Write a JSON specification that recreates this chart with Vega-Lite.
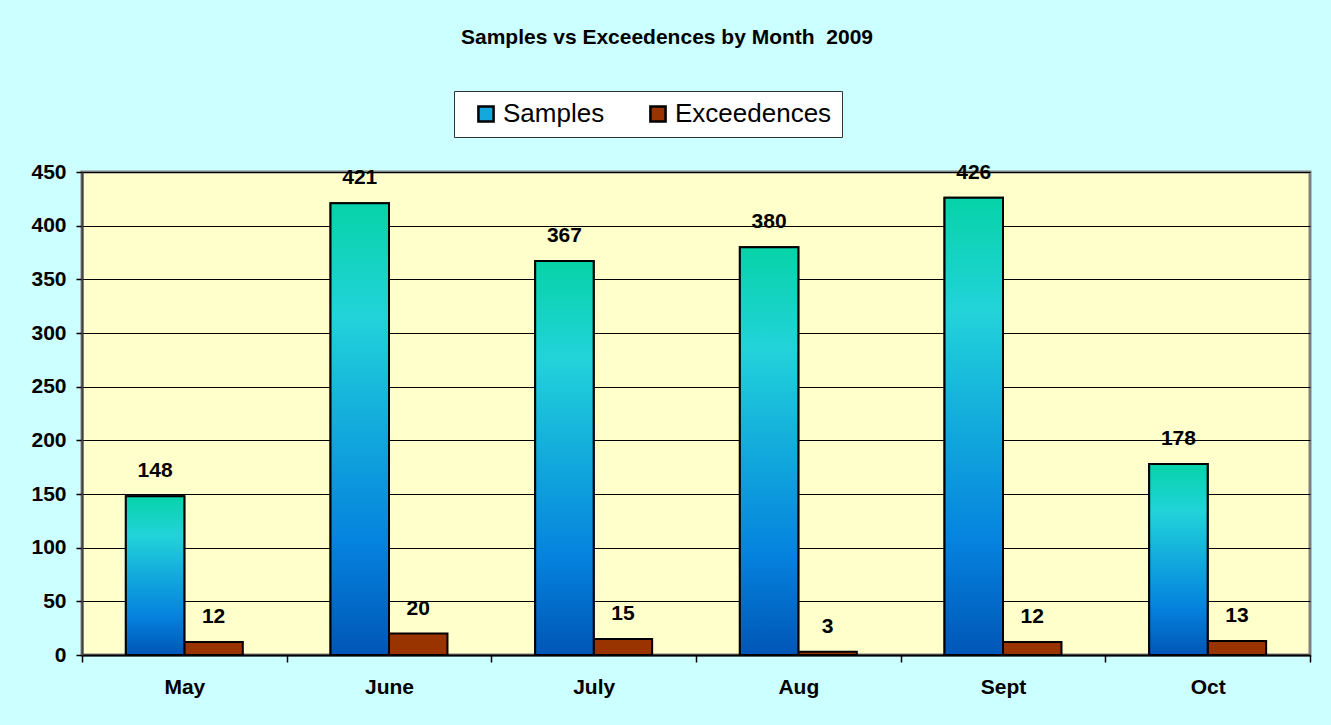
{
  "$schema": "https://vega.github.io/schema/vega-lite/v6.json",
  "autosize": {"type": "none"},
  "width": 1228,
  "height": 483,
  "padding": {"left": 82, "top": 172, "right": 21, "bottom": 70},
  "background": "#CCFFFF",
  "title": {
    "text": "Samples vs Exceedences by Month \u00a02009",
    "font": "Liberation Sans",
    "fontSize": 21,
    "fontWeight": "bold",
    "color": "black",
    "anchor": "middle",
    "frame": "group",
    "dx": -29,
    "offset": 43
  },
  "data": {
    "values": [
      {"month": "May", "series": "Samples", "value": 148},
      {"month": "May", "series": "Exceedences", "value": 12},
      {"month": "June", "series": "Samples", "value": 421},
      {"month": "June", "series": "Exceedences", "value": 20},
      {"month": "July", "series": "Samples", "value": 367},
      {"month": "July", "series": "Exceedences", "value": 15},
      {"month": "Aug", "series": "Samples", "value": 380},
      {"month": "Aug", "series": "Exceedences", "value": 3},
      {"month": "Sept", "series": "Samples", "value": 426},
      {"month": "Sept", "series": "Exceedences", "value": 12},
      {"month": "Oct", "series": "Samples", "value": 178},
      {"month": "Oct", "series": "Exceedences", "value": 13}
    ]
  },
  "encoding": {
    "x": {
      "field": "month",
      "type": "nominal",
      "sort": ["May", "June", "July", "Aug", "Sept", "Oct"],
      "scale": {"paddingInner": 0, "paddingOuter": 0},
      "axis": {
        "title": null,
        "labelAngle": 0,
        "labelFont": "Liberation Sans",
        "labelFontSize": 21,
        "labelFontWeight": "bold",
        "labelColor": "black",
        "labelPadding": 14,
        "tickBand": "extent",
        "tickSize": 7,
        "tickColor": "black",
        "tickWidth": 1.5,
        "domainColor": "black",
        "domainWidth": 2
      }
    },
    "xOffset": {
      "field": "series",
      "type": "nominal",
      "scale": {"domain": ["Samples", "Exceedences"], "paddingInner": 0, "paddingOuter": 0.75}
    },
    "y": {
      "field": "value",
      "type": "quantitative",
      "scale": {"domain": [0, 450], "nice": false},
      "axis": {
        "title": null,
        "values": [0, 50, 100, 150, 200, 250, 300, 350, 400, 450],
        "labelFont": "Liberation Sans",
        "labelFontSize": 21,
        "labelFontWeight": "bold",
        "labelColor": "black",
        "labelPadding": 10,
        "tickSize": 6,
        "tickColor": "black",
        "tickWidth": 1.5,
        "domainColor": "#404040",
        "domainWidth": 2,
        "grid": true,
        "gridColor": "black",
        "gridWidth": 1
      }
    }
  },
  "layer": [
    {
      "mark": {"type": "bar", "stroke": "black", "strokeWidth": 2},
      "encoding": {
        "color": {
          "field": "series",
          "type": "nominal",
          "scale": {"domain": ["Samples", "Exceedences"], "range": ["#15A8DC", "#993300"]},
          "legend": {
            "title": null,
            "orient": "none",
            "direction": "horizontal",
            "legendX": 372,
            "legendY": -81,
            "fillColor": "white",
            "strokeColor": "#333333",
            "padding": 10,
            "symbolOffset": 9,
            "columnPadding": 31,
            "labelOffset": 4,
            "symbolType": "square",
            "symbolSize": 230,
            "symbolStrokeColor": "black",
            "symbolStrokeWidth": 2.5,
            "labelFont": "Liberation Sans",
            "labelFontSize": 26,
            "labelColor": "black"
          }
        }
      }
    },
    {
      "transform": [{"filter": "datum.series === 'Samples'"}],
      "mark": {
        "type": "bar",
        "stroke": "black",
        "strokeWidth": 2,
        "fill": {
          "gradient": "linear",
          "x1": 0, "y1": 0, "x2": 0, "y2": 1,
          "stops": [
            {"offset": 0, "color": "#06D3A8"},
            {"offset": 0.25, "color": "#22D3DA"},
            {"offset": 0.5, "color": "#12AADC"},
            {"offset": 0.75, "color": "#0583DE"},
            {"offset": 1, "color": "#0056B6"}
          ]
        }
      }
    },
    {
      "mark": {
        "type": "text",
        "font": "Liberation Sans",
        "fontSize": 21,
        "fontWeight": "bold",
        "color": "black",
        "baseline": "middle",
        "dy": -25
      },
      "encoding": {"text": {"field": "value", "type": "quantitative"}}
    }
  ],
  "config": {
    "view": {"fill": "#FFFFCC", "stroke": "#808080", "strokeWidth": 3}
  }
}
